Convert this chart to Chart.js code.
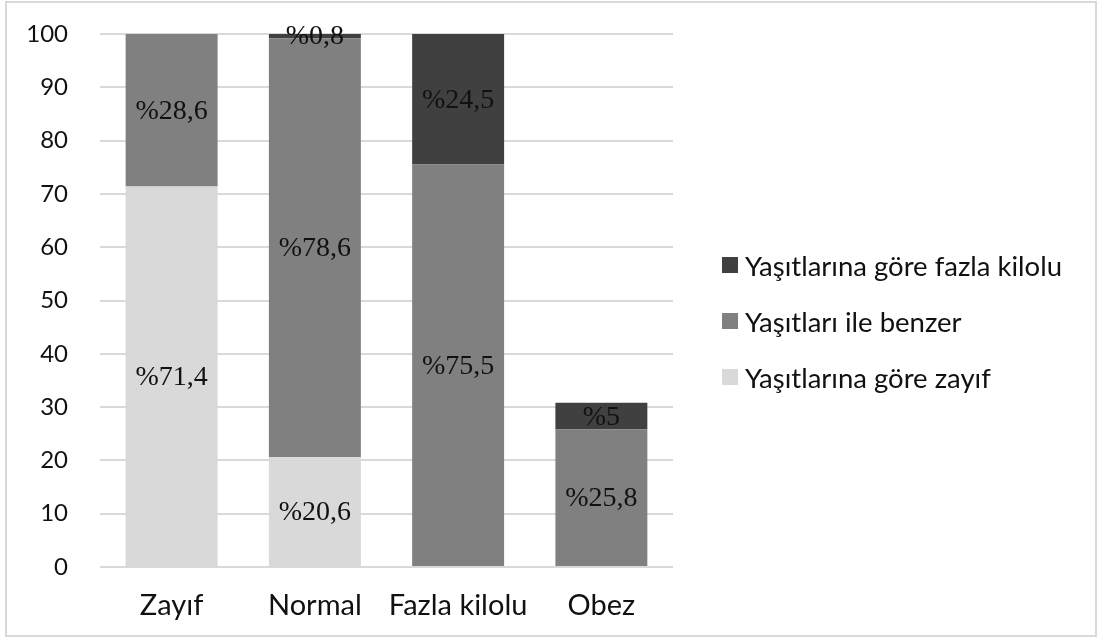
<!DOCTYPE html>
<html lang="tr">
<head>
<meta charset="UTF-8">
<title>Kilo algısı</title>
<script src="https://cdn.jsdelivr.net/npm/chart.js@4.4.1/dist/chart.umd.min.js"></script>
<style>
  * {box-sizing:border-box;margin:0;padding:0;}
  body {background:#fff;width:1103px;height:643px;overflow:hidden;font-family:Lato,"Open Sans",sans-serif;}
  .frame {position:absolute;left:5px;top:1px;width:1092px;height:636px;border:2px solid #d9d9d9;background:#fff;}
  .frame canvas {display:block;}
  #legend {position:absolute;left:715px;top:234px;list-style:none;}
  #legend li {font-size:27.5px;color:#111;white-space:nowrap;display:flex;align-items:center;height:56px;}
  #legend li span {display:inline-block;width:16px;height:16px;margin-right:7px;}
</style>
</head>
<body>
<div class="frame"><canvas id="chart"></canvas><ul id="legend"></ul></div>
<script>
const categories = ['Zayıf', 'Normal', 'Fazla kilolu', 'Obez'];
const seriesNames = ['Yaşıtlarına göre zayıf', 'Yaşıtları ile benzer', 'Yaşıtlarına göre fazla kilolu'];
const zayifValues = [71.4, 20.6, 0, 0];
const benzerValues = [28.6, 78.6, 75.5, 25.8];
const fazlaValues = [0, 0.8, 24.5, 5];
const seriesColors = ['#d9d9d9', '#808080', '#404040'];
const yTicks = [0, 10, 20, 30, 40, 50, 60, 70, 80, 90, 100];

const sansFont = 'Lato, "Open Sans", sans-serif';

// yüzde etiketleri, segment ortasına
const segmentLabels = {
  id: 'segmentLabels',
  afterDatasetsDraw(chart) {
    const ctx = chart.ctx;
    ctx.save();
    ctx.font = '28px "Liberation Serif", "Times New Roman", serif';
    ctx.fillStyle = '#111';
    ctx.textAlign = 'center';
    ctx.textBaseline = 'middle';
    chart.data.datasets.forEach((ds, i) => {
      chart.getDatasetMeta(i).data.forEach((bar, j) => {
        const v = ds.data[j];
        if (!v) return;
        const p = bar.getProps(['x', 'y', 'base'], true);
        const txt = '%' + String(v).replace('.', ',');
        ctx.fillText(txt, p.x, (p.y + p.base) / 2 + 1);
      });
    });
    ctx.restore();
  }
};

const canvas = document.getElementById('chart');
canvas.width = 1088;
canvas.height = 632;

const chart = new Chart(canvas, {
  type: 'bar',
  data: {
    labels: categories,
    datasets: [
      {label: seriesNames[0], data: zayifValues, backgroundColor: seriesColors[0]},
      {label: seriesNames[1], data: benzerValues, backgroundColor: seriesColors[1]},
      {label: seriesNames[2], data: fazlaValues, backgroundColor: seriesColors[2]}
    ]
  },
  options: {
    responsive: false,
    animation: false,
    layout: {padding: {top: 31, left: 0, right: 422, bottom: 0}},
    datasets: {bar: {categoryPercentage: 0.642, barPercentage: 1}},
    scales: {
      x: {
        stacked: true,
        grid: {display: false},
        border: {display: false},
        afterFit: axis => { axis.height = 68; axis.paddingLeft = 0; axis.paddingRight = 0; },
        ticks: {font: {family: sansFont, size: 29}, color: '#111', padding: 13, maxRotation: 0, minRotation: 0, autoSkip: false}
      },
      y: {
        stacked: true,
        min: 0,
        max: 100,
        afterBuildTicks: axis => { axis.ticks = yTicks.map(v => ({value: v})); },
        afterFit: axis => { axis.width = 93; axis.paddingTop = 0; axis.paddingBottom = 0; },
        grid: {color: '#d9d9d9', lineWidth: 2, drawTicks: false},
        border: {display: false},
        ticks: {font: {family: sansFont, size: 24}, color: '#111', padding: 32}
      }
    },
    plugins: {
      legend: {display: false},
      tooltip: {enabled: false}
    }
  },
  plugins: [segmentLabels]
});

// legend, ters sırada
const legendEl = document.getElementById('legend');
chart.data.datasets.slice().reverse().forEach(ds => {
  const li = document.createElement('li');
  const sw = document.createElement('span');
  sw.style.background = ds.backgroundColor;
  li.appendChild(sw);
  li.appendChild(document.createTextNode(ds.label));
  legendEl.appendChild(li);
});
</script>
</body>
</html>
